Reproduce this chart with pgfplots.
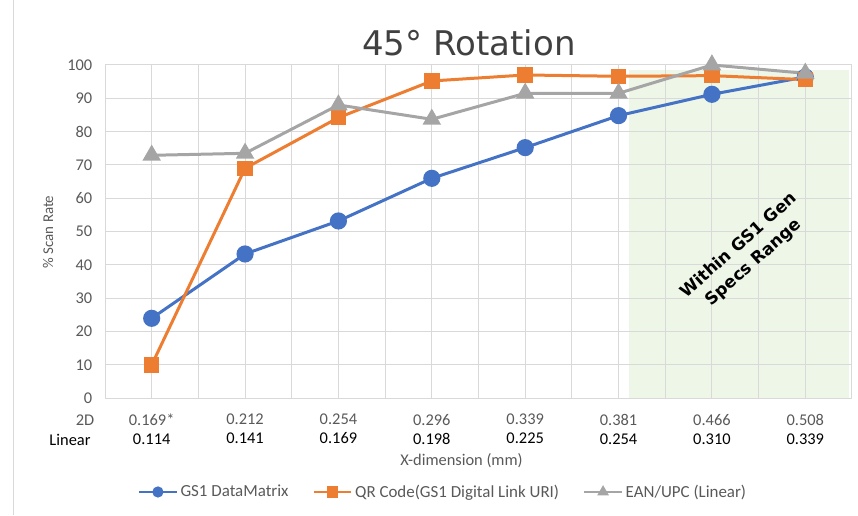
\documentclass[border=0pt]{standalone}
\usepackage{pgfplots}
\pgfplotsset{compat=1.18}
\usepackage{fontspec}
\setmainfont{Carlito}
\newfontfamily\dejavu{DejaVu Sans}
\definecolor{dmblue}{HTML}{4472C4}
\definecolor{qrorange}{HTML}{ED7D31}
\definecolor{eangray}{HTML}{A5A5A5}
\definecolor{gridgray}{HTML}{D9D9D9}
\definecolor{txtgray}{HTML}{595959}
\definecolor{titlegray}{HTML}{404040}
\definecolor{specgreen}{HTML}{EEF6E8}

\pgfplotstableread{
x y
0 24
1 43.3
2 53.2
3 66
4 75.2
5 84.8
6 91.2
7 96.4
}\datamatrix
\pgfplotstableread{
x y
0 10
1 69
2 84.2
3 95.2
4 97
5 96.6
6 96.8
7 95.6
}\qrcode
\pgfplotstableread{
x y
0 72.9
1 73.5
2 88
3 83.7
4 91.5
5 91.5
6 100
7 97.5
}\eanupc

\newcommand\tickfont{\fontsize{12.3}{14}\selectfont}
\newcommand\twod[2]{\textcolor{txtgray}{#1}\\\textcolor{black}{#2}}

\begin{document}
\begin{tikzpicture}
% outer chart frame (left edge)
\draw[gridgray, line width=0.75pt] (9.75pt,0) -- (9.75pt,-386.25pt);

\begin{axis}[
  set layers,
  at={(78.75pt,-298.725pt)}, anchor=south west,
  width=560.25pt, height=250pt, scale only axis,
  xmin=-0.5, xmax=7.5, ymin=0, ymax=100,
  xtick={0,1,2,3,4,5,6,7},
  minor xtick={-0.5,0.5,1.5,2.5,3.5,4.5,5.5,6.5,7.5},
  ytick={0,10,...,100},
  xticklabels={
    {\twod{0.169*}{0.114}},
    {\twod{0.212}{0.141}},
    {\twod{0.254}{0.169}},
    {\twod{0.296}{0.198}},
    {\twod{0.339}{0.225}},
    {\twod{0.381}{0.254}},
    {\twod{0.466}{0.310}},
    {\twod{0.508}{0.339}}},
  xticklabel style={align=center, font=\tickfont, yshift=-8.5pt},
  yticklabel style={font=\tickfont, text=txtgray, xshift=-6pt},
  /pgf/number format/assume math mode=true,
  xmajorgrids, xminorgrids, ymajorgrids,
  grid style={gridgray, line width=0.75pt},
  minor grid style={gridgray, line width=0.75pt},
  axis line style={gridgray, line width=0.75pt},
  major tick length=0pt, minor tick length=0pt,
  tick style={draw=none},
  legend columns=3,
  legend style={at={(0.453,-0.281)}, anchor=center, draw=none, fill=none,
    font=\fontsize{12.7}{14}\selectfont, text=txtgray,
    /tikz/every even column/.append style={column sep=16pt}},
  legend image code/.code={
    \draw[#1, line width=1.9pt, mark size=3.2pt, mark repeat=2, mark phase=2]
      plot coordinates {(0pt,0pt) (14pt,0pt) (28pt,0pt)};},
]
% shaded GS1 spec range
\addplot[draw=none, fill=specgreen, forget plot, on layer=axis background]
  coordinates {(5.11,98.5) (7.47,98.5)} \closedcycle;

\addplot[dmblue, line width=2.25pt, mark=*, mark size=5.3pt,
  mark options={solid}] table[x=x,y=y] {\datamatrix};
\addlegendentry{GS1 DataMatrix}
\addplot[qrorange, line width=2.25pt, mark=square*, mark size=4.7pt,
  mark options={solid}] table[x=x,y=y] {\qrcode};
\addlegendentry{QR Code(GS1 Digital Link URI)}
\addplot[eangray, line width=2.25pt, mark=triangle*, mark size=5.8pt,
  mark options={solid}] table[x=x,y=y] {\eanupc};
\addlegendentry{EAN/UPC (Linear)}

\node[rotate=41.5, align=center, font=\dejavu\bfseries\fontsize{12.6}{17}\selectfont]
  at (axis cs:6.37,43.2) {Within GS1 Gen\\Specs Range};
\end{axis}

\begin{scope}[x=0.75pt, y=-0.75pt]
  \node[anchor=base, font=\dejavu\fontsize{25.5}{29}\selectfont, text=titlegray]
    at (469,55) {45° Rotation};
  \node[font=\tickfont, text=txtgray] at (85,420) {2D};
  \node[font=\tickfont, text=black] at (70,440) {Linear};
  \node[font=\fontsize{11.2}{13}\selectfont, text=txtgray, rotate=90]
    at (48,232) {\% Scan Rate};
  \node[font=\fontsize{12.3}{14}\selectfont, text=txtgray]
    at (461.5,461) {X-dimension (mm)};
\end{scope}

\pgfresetboundingbox
\path[use as bounding box] (0,0) rectangle (643.5pt,-386.25pt);
\end{tikzpicture}
\end{document}
